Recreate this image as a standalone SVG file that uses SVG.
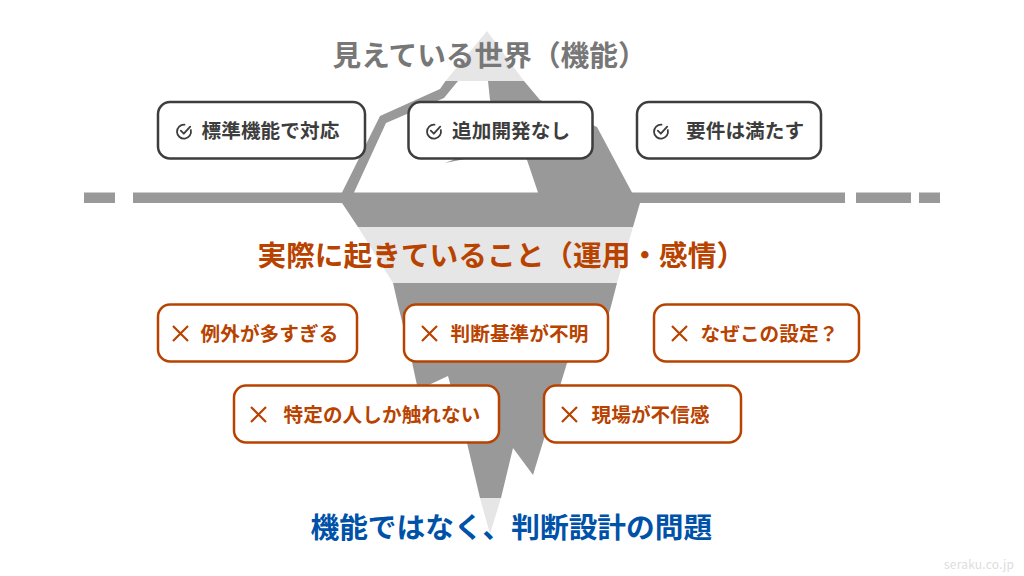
<svg xmlns="http://www.w3.org/2000/svg" width="1024" height="576" viewBox="0 0 1024 576">
<defs>
<style>
.g{fill:#999}.l{fill:#e6e6e6}
text{font-family:"Noto Sans CJK JP","Noto Sans",sans-serif;font-weight:700}
.h{font-size:28.7px}
.b{font-size:19.6px;letter-spacing:.1px}
.dk rect{fill:#fff;stroke:#3d3d3d;stroke-width:2.5}
.dk text{fill:#3d3d3d}
.rd rect{fill:#fff;stroke:#b84300;stroke-width:2.5}
.rd text{fill:#b84300}
.rd path{fill:none;stroke:#b84300;stroke-width:2.2}
.c{fill:none;stroke:#3d3d3d;stroke-width:1.8;stroke-linecap:round;stroke-linejoin:round}
</style>
<g id="chk"><path d="M8.500 1.200A7 7 0 1 0 14.800 6.500"/><path d="M4.800 7.200L7.800 10.200L14.200 3.200"/></g>
</defs>
<rect width="1024" height="576" fill="#fff"/>
<g id="iceberg">
<rect class="g" x="84" y="192.500" width="31" height="10.500"/>
<rect class="g" x="133" y="192.500" width="712" height="10.500"/>
<rect class="g" x="856" y="192.500" width="55" height="10.500"/>
<rect class="g" x="919" y="192.500" width="21" height="10.500"/>
<polygon class="l" points="487,31 524,81 445.500,81"/>
<polygon class="g" points="445.500,81 524,81 540,100 597,127 632,192.500 640,203 633,227 358,227 342,203 342,192.500 380,116 440,89"/>
<polygon fill="#fff" points="458,81 488,81 490,100 527,160 538,192.500 354,192.500 386,123 444,98"/>
<polygon class="g" points="445,163 458,158 470,158"/>
<polygon class="l" points="358,227 633,227 617,283 393,283"/>
<polygon class="g" points="393,283 617,283 610,310 600,335 567,363 533,475 513,448 501,498 480,498 467,443 460,420 448,376 418,390 412,362 398,305"/>
<polygon class="l" points="480,498 501,498 490,534"/>
</g>
<g id="title-top"><text class="h" x="332.500" y="66" fill="#777">見えている世界（機能）</text></g>
<g id="box-1" class="dk"><rect x="158" y="102" width="207" height="56.500" rx="12"/><use class="c" href="#chk" x="176" y="123.500"/><text class="b" x="201.500" y="138">標準機能で対応</text></g>
<g id="box-2" class="dk"><rect x="408.500" y="102" width="184" height="56.500" rx="12"/><use class="c" href="#chk" x="426" y="123.500"/><text class="b" x="452" y="138">追加開発なし</text></g>
<g id="box-3" class="dk"><rect x="637" y="102" width="184" height="56.500" rx="12"/><use class="c" href="#chk" x="653" y="123.500"/><text class="b" x="686" y="138">要件は満たす</text></g>
<g id="title-mid"><text class="h" x="257.500" y="266" fill="#b84300">実際に起きていること（運用・感情）</text></g>
<g id="box-4" class="rd"><rect x="158" y="304.500" width="199" height="57" rx="12"/><path d="M173 326L188 341M188 326L173 341"/><text class="b" x="200.500" y="341">例外が多すぎる</text></g>
<g id="box-5" class="rd"><rect x="404" y="304.500" width="204" height="57" rx="12"/><path d="M422 326L437 341M437 326L422 341"/><text class="b" x="450.500" y="341">判断基準が不明</text></g>
<g id="box-6" class="rd"><rect x="654" y="304.500" width="205" height="57" rx="12"/><path d="M672 326L687 341M687 326L672 341"/><text class="b" x="700.500" y="341">なぜこの設定？</text></g>
<g id="box-7" class="rd"><rect x="234" y="385.500" width="265" height="57" rx="12"/><path d="M251 407L266 422M266 407L251 422"/><text class="b" x="283.500" y="422">特定の人しか触れない</text></g>
<g id="box-8" class="rd"><rect x="544" y="385.500" width="197" height="57" rx="12"/><path d="M562 407L577 422M577 407L562 422"/><text class="b" x="591.500" y="422">現場が不信感</text></g>
<g id="title-bottom"><text class="h" x="310.500" y="538" fill="#0052a8">機能ではなく、判断設計の問題</text></g>
<g id="credit"><text x="944" y="569" font-size="12" fill="#ddd" style="font-weight:400;letter-spacing:.2px">seraku.co.jp</text></g>
</svg>
